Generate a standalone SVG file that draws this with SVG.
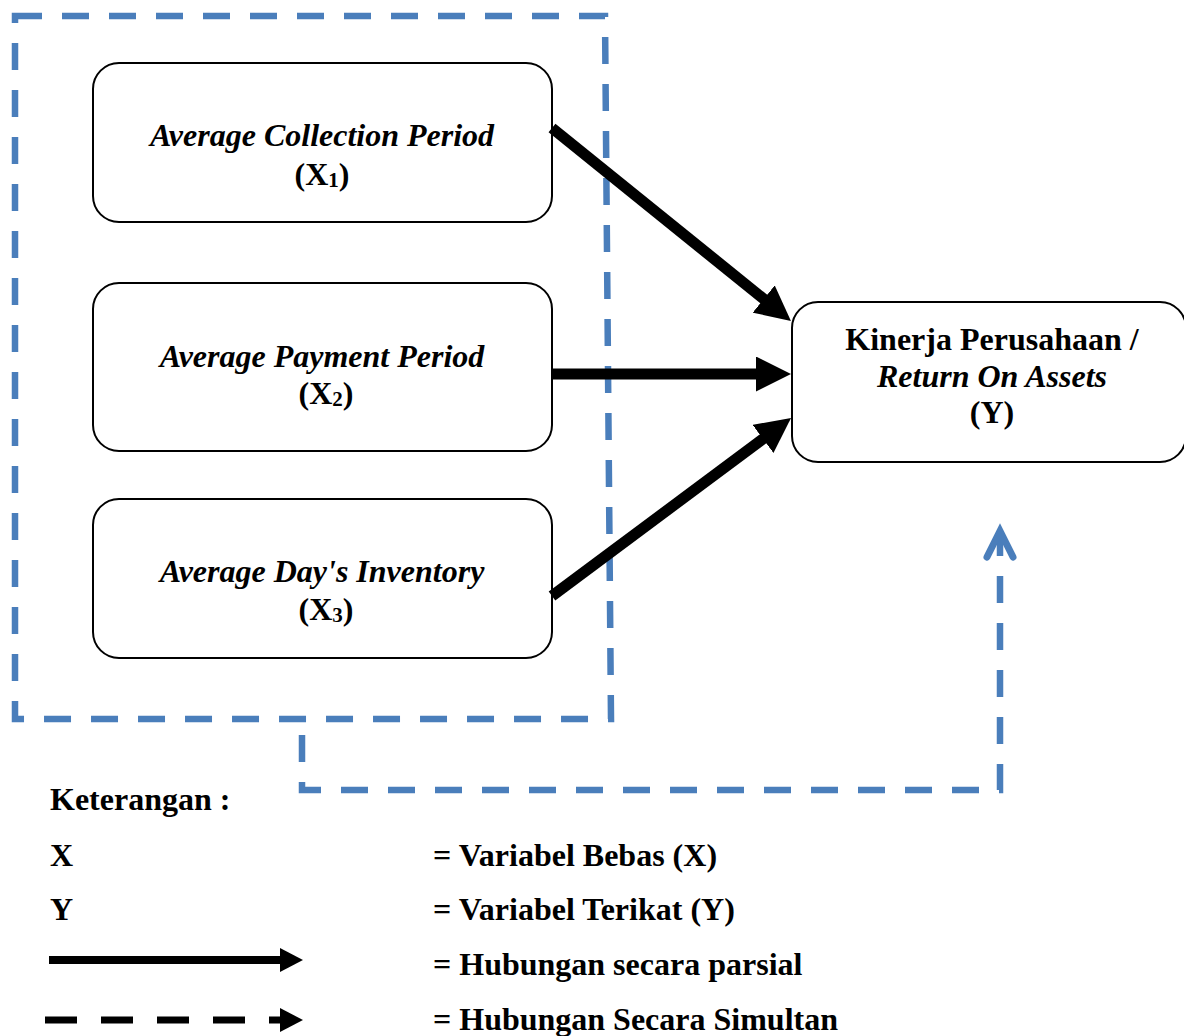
<svg xmlns="http://www.w3.org/2000/svg" width="1184" height="1036" viewBox="0 0 1184 1036">
<style>
.box{fill:#fff;stroke:#000;stroke-width:2}
.t{font-family:"Liberation Serif","Times New Roman",serif;font-weight:bold;font-size:32px;fill:#000}
.ti{font-style:italic}
.sub{font-size:21px}
.blue{fill:none;stroke:#4a7ebb;stroke-width:6.5;stroke-dasharray:27 20}
.arr{stroke:#000;stroke-width:11;fill:none}
</style>
<defs>
<marker id="ah" markerUnits="userSpaceOnUse" viewBox="0 0 35 35" refX="10" refY="17.5" markerWidth="35" markerHeight="35" orient="auto">
<path d="M0,0 L35,17.5 L0,35 Z" fill="#000"/>
</marker>
<marker id="ahs" markerUnits="userSpaceOnUse" viewBox="0 0 23 24" refX="5" refY="12" markerWidth="23" markerHeight="24" orient="auto">
<path d="M0,0 L23,12 L0,24 Z" fill="#000"/>
</marker>
</defs>

<g id="simultan-frame">
<path class="blue" d="M15 16 H605 L611 719 H15 Z"/>
</g>

<g id="node-x1">
<rect class="box" x="93" y="63" width="459" height="159" rx="26"/>
<text class="t ti" x="322" y="146" text-anchor="middle">Average Collection Period</text>
<text class="t" x="322" y="185" text-anchor="middle">(X<tspan class="sub" dy="2">1</tspan><tspan dy="-2">)</tspan></text>
</g>
<g id="node-x2">
<rect class="box" x="93" y="283" width="459" height="168" rx="26"/>
<text class="t ti" x="322" y="367" text-anchor="middle">Average Payment Period</text>
<text class="t" x="326" y="404" text-anchor="middle">(X<tspan class="sub" dy="2">2</tspan><tspan dy="-2">)</tspan></text>
</g>
<g id="node-x3">
<rect class="box" x="93" y="499" width="459" height="159" rx="26"/>
<text class="t ti" x="322" y="582" text-anchor="middle">Average Day's Inventory</text>
<text class="t" x="326" y="620" text-anchor="middle">(X<tspan class="sub" dy="2">3</tspan><tspan dy="-2">)</tspan></text>
</g>
<g id="node-y">
<rect class="box" x="792" y="302" width="394" height="160" rx="26"/>
<text class="t" x="992" y="350" text-anchor="middle">Kinerja Perusahaan /</text>
<text class="t ti" x="992" y="387" text-anchor="middle">Return On Assets</text>
<text class="t" x="992" y="423" text-anchor="middle">(Y)</text>
</g>

<g id="connectors">
<line class="arr" x1="552" y1="128" x2="771.5" y2="305.3" marker-end="url(#ah)"/>
<line class="arr" x1="552" y1="374" x2="766" y2="374" marker-end="url(#ah)"/>
<line class="arr" x1="552" y1="596" x2="771" y2="432.9" marker-end="url(#ah)"/>
<path class="blue" d="M302 735 V790 H1000 V533"/>
<path d="M987 557 L1000 531 L1013 557" fill="none" stroke="#4a7ebb" stroke-width="7" stroke-linecap="round" stroke-linejoin="miter"/>
</g>

<g id="legend">
<text class="t" x="50" y="810">Keterangan :</text>
<text class="t" x="50" y="866">X</text>
<text class="t" x="433" y="866">= Variabel Bebas (X)</text>
<text class="t" x="50" y="920">Y</text>
<text class="t" x="433" y="920">= Variabel Terikat (Y)</text>
<line x1="49" y1="960" x2="285" y2="960" stroke="#000" stroke-width="8" marker-end="url(#ahs)"/>
<text class="t" x="433" y="975">= Hubungan secara parsial</text>
<line x1="45" y1="1020" x2="285" y2="1020" stroke="#000" stroke-width="7" stroke-dasharray="32 24" marker-end="url(#ahs)"/>
<text class="t" x="433" y="1030">= Hubungan Secara Simultan</text>
</g>
</svg>
